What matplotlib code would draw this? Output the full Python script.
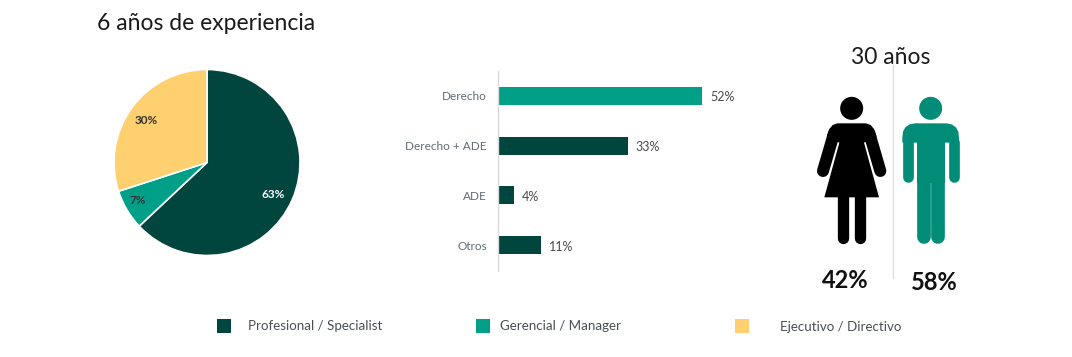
#!/usr/bin/env python3
"""6 anos de experiencia: pie, bars and gender pictograms"""

import matplotlib
matplotlib.use('Agg')
import matplotlib.pyplot as plt
from matplotlib.patches import Circle, Polygon, Rectangle

W, H = 1072, 357

# data
pie_labels = ['Profesional / Specialist', 'Gerencial / Manager', 'Ejecutivo / Directivo']
pie_values = [63, 7, 30]
bar_labels = ['Derecho', 'Derecho + ADE', 'ADE', 'Otros']
bar_values = [52, 33, 4, 11]
gender_values = ['42%', '58%']

DARK = '#00463F'
TEAL = '#00A088'
YELLOW = '#FFD06F'
MAN = '#008C77'
GREY = '#5F6B73'

plt.rcParams['font.family'] = ['Lato', 'DejaVu Sans']


def px_axes(x0, y0, x1, y1):
    """Axes from pixel box, y measured from the top"""
    return fig.add_axes([x0 / W, 1 - y1 / H, (x1 - x0) / W, (y1 - y0) / H])


fig = plt.figure(figsize=(W / 100, H / 100), dpi=100, facecolor='white')

# pie
ax_pie = px_axes(114, 69.5, 300, 255.5)
ax_pie.pie(pie_values, colors=[DARK, TEAL, YELLOW], startangle=90, counterclock=False,
           radius=1, wedgeprops={'edgecolor': 'white', 'linewidth': 1.2})
ax_pie.set_xlim(-1, 1)
ax_pie.set_ylim(-1, 1)

# bars
ax_bar = px_axes(498, 71, 760, 271)
ypos = range(len(bar_values))
bars = ax_bar.barh(list(ypos), bar_values, height=0.36, color=[TEAL, DARK, DARK, DARK])
ax_bar.set_ylim(3.52, -0.5)
ax_bar.set_xlim(0, 262 / 3.93)
ax_bar.set_yticks(list(ypos), bar_labels)
ax_bar.tick_params(axis='y', length=0, pad=8, labelsize=8.5, labelcolor=GREY)
ax_bar.xaxis.set_visible(False)
for s in ['top', 'right', 'bottom']:
    ax_bar.spines[s].set_visible(False)
ax_bar.spines['left'].set_color('#D9D9D9')
ax_bar.spines['left'].set_linewidth(1.0)
for y, v in zip(ypos, bar_values):
    ax_bar.annotate(f'{v}%', (v, y), xytext=(5.5, -1), textcoords='offset points',
                    va='center', fontsize=9, color='#4A4A4A')

# overlay in pixel coordinates for text, legend and pictograms
ov = fig.add_axes([0, 0, 1, 1])
ov.set_xlim(0, W)
ov.set_ylim(H, 0)
ov.axis('off')
ov.patch.set_alpha(0)

ov.text(97, 23, '6 años de experiencia', fontsize=16.5, color='#1A1A1A', va='center', ha='left')
ov.text(891, 57, '30 años', fontsize=16.5, color='#1A1A1A', va='center', ha='center')

ov.text(273, 195, f'{pie_values[0]}%', fontsize=8.5, fontweight='bold', color='white', ha='center', va='center')
ov.text(138, 201, f'{pie_values[1]}%', fontsize=8.5, fontweight='bold', color='#333333', ha='center', va='center')
ov.text(146, 120, f'{pie_values[2]}%', fontsize=8.5, fontweight='bold', color='#333333', ha='center', va='center')

# legend
for x, y, c, tx, ty, lab in [(224, 326, DARK, 248, 325.5, pie_labels[0]),
                             (483, 326, TEAL, 500, 325.5, pie_labels[1]),
                             (742, 326, YELLOW, 780, 327, pie_labels[2])]:
    ov.add_patch(Rectangle((x - 7, y - 7), 14, 14, color=c, lw=0))
    ov.text(tx, ty, lab, fontsize=9.6, color='#4A4F55', va='center', ha='left')

# divider between pictograms
ov.plot([892.5, 892.5], [65, 278], color='#DDDDDD', lw=0.9)


def zx(x):
    return 800 + x / 3


def zy(y):
    return 30 + y / 3


def thick(x0, y0, x1, y1, width, color):
    ov.plot([zx(x0), zx(x1)], [zy(y0), zy(y1)], color=color, lw=width / 3 * 0.72,
            solid_capstyle='round')


def poly(points, color):
    ov.add_patch(Polygon([(zx(x), zy(y)) for x, y in points], closed=True, color=color, lw=0))


# woman
ov.add_patch(Circle((zx(155), zy(235)), 11.5, color='black', lw=0))
poly([(112, 280), (198, 280), (212, 285), (222, 297), (230, 320), (192, 338), (237, 502),
      (73, 502), (118, 338), (80, 320), (88, 297), (98, 285)], 'black')
thick(102, 310, 69, 423, 36, 'black')
thick(208, 310, 241, 423, 36, 'black')
thick(130, 500, 130, 623, 34, 'black')
thick(180, 500, 180, 623, 34, 'black')

# man
ov.add_patch(Circle((zx(392), zy(235)), 11.5, color=MAN, lw=0))
poly([(345, 280), (439, 280), (455, 283), (468, 292), (475, 305), (477, 325), (477, 338),
      (307, 338), (307, 325), (309, 305), (316, 292), (329, 283)], MAN)
thick(323, 335, 323, 440, 32, MAN)
thick(461, 335, 461, 440, 32, MAN)
poly([(350, 300), (435, 300), (435, 460), (350, 460)], MAN)
thick(371, 450, 371, 620, 41, MAN)
thick(413, 450, 413, 620, 41, MAN)

ov.text(845.5, 280, gender_values[0], fontsize=17, fontweight='bold', color='#111111', ha='center', va='center')
ov.text(934, 282, gender_values[1], fontsize=17, fontweight='bold', color='#111111', ha='center', va='center')

fig.savefig('out.png', dpi=100)
